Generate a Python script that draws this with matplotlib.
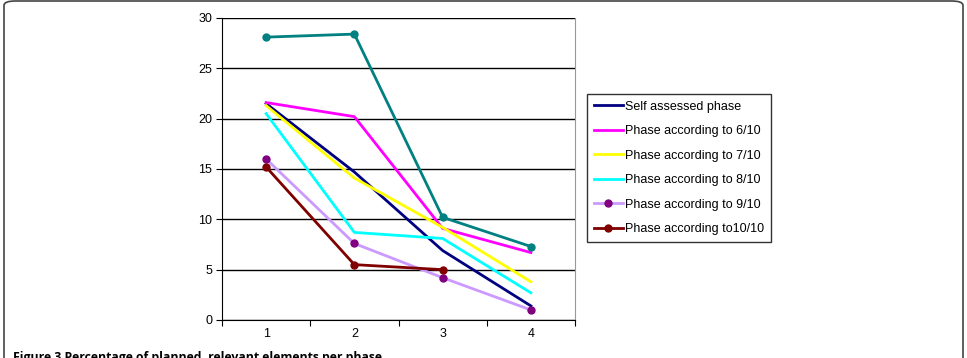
import matplotlib
matplotlib.use("Agg")
import matplotlib.pyplot as plt
from matplotlib.patches import FancyBboxPatch

phases = [1, 2, 3, 4]
self_assessed = [21.5, 14.7, 6.9, 1.4]
p6 = [21.6, 20.2, 9.1, 6.7]
p7 = [21.3, 14.1, 9.2, 3.8]
p8 = [20.5, 8.7, 8.1, 2.7]
p9 = [16.0, 7.6, 4.2, 1.0]
p10 = [15.2, 5.5, 5.0]
extra = [28.1, 28.4, 10.2, 7.3]
yticks = [0, 5, 10, 15, 20, 25, 30]

plt.rcParams['font.family'] = ['Liberation Sans', 'DejaVu Sans']

fig = plt.figure(figsize=(9.67, 3.58), dpi=100)
ax = fig.add_axes([222/967, 1-320/358, (575-222)/967, (320-18)/358])

ax.plot(phases, self_assessed, color='#000080', lw=2, label='Self assessed phase')
ax.plot(phases, p6, color='#FF00FF', lw=2, label='Phase according to 6/10')
ax.plot(phases, p7, color='#FFFF00', lw=2, label='Phase according to 7/10')
ax.plot(phases, p8, color='#00FFFF', lw=2, label='Phase according to 8/10')
ax.plot(phases, p9, color='#CC99FF', lw=2, marker='o', ms=5, mfc='#800080', mec='#800080',
        label='Phase according to 9/10')
ax.plot(phases[:len(p10)], p10, color='#800000', lw=2, marker='o', ms=5, label='Phase according to10/10')
ax.plot(phases, extra, color='#008080', lw=2, marker='o', ms=5, label='_nolegend_')

ax.set_xlim(0.5, 4.5)
ax.set_ylim(0, 30)
ax.set_yticks(yticks)
ax.yaxis.grid(True, color='black', lw=1)
ax.set_axisbelow(True)
ax.set_xticks([0.5, 1.5, 2.5, 3.5, 4.5])
ax.set_xticklabels([])
ax.set_xticks(phases, minor=True)
ax.set_xticklabels([str(p) for p in phases], minor=True)
ax.tick_params(axis='x', which='minor', length=0, labelsize=9, pad=6)
ax.tick_params(axis='x', which='major', length=4, direction='out', color='black')
ax.tick_params(axis='y', length=4, direction='out', labelsize=9, pad=3)
ax.spines['left'].set_color('black')
ax.spines['bottom'].set_color('black')
ax.spines['right'].set_color('#999999')
ax.spines['top'].set_visible(False)

leg = ax.legend(loc='upper left', bbox_to_anchor=((587-222)/(575-222), 1-(94-18)/302),
                fontsize=9, frameon=True, fancybox=False, edgecolor='black',
                handlelength=2.3, handletextpad=0.2, labelspacing=1.0,
                borderpad=0.55, borderaxespad=0)
leg.get_frame().set_linewidth(1)

frame = FancyBboxPatch((4/967, -0.2), (959/967), 1.2 - 1/358,
                       boxstyle='round,pad=0,rounding_size=0.012',
                       transform=fig.transFigure, fill=False, edgecolor='#444444', lw=1.2,
                       clip_on=False)
fig.patches.append(frame)

fig.text(13/967, 1-361/358, 'Figure 3 Percentage of planned, relevant elements per phase',
         fontsize=8.8, fontweight='bold', family=['Open Sans', 'DejaVu Sans'], va='baseline', ha='left')

fig.savefig('out.png', dpi=100)
